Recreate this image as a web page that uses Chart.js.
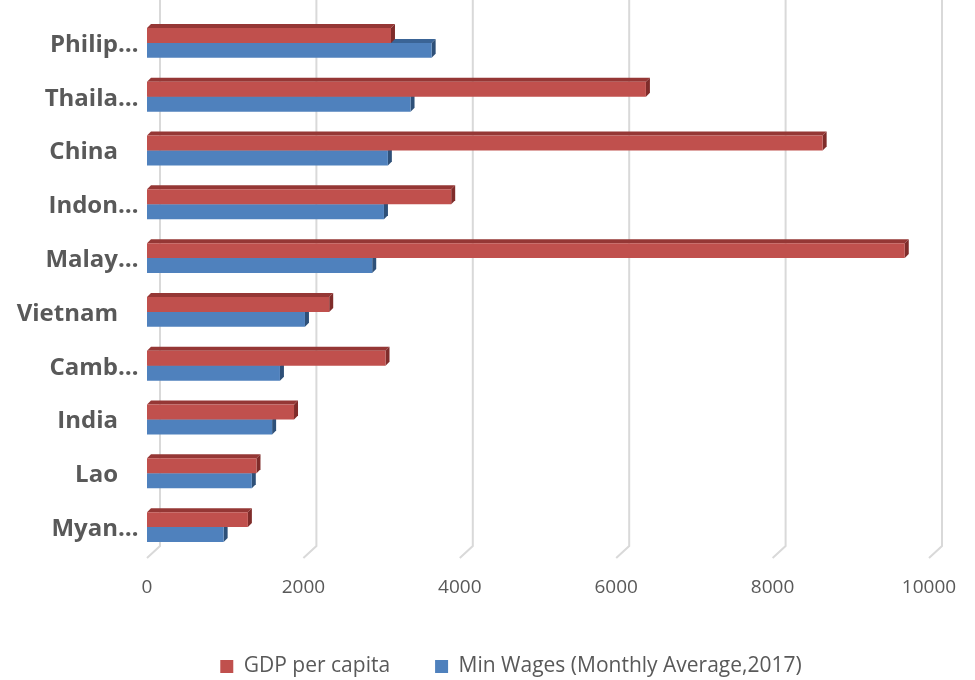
<!DOCTYPE html>
<html>
<head>
<meta charset="utf-8">
<script src="https://cdn.jsdelivr.net/npm/chart.js@4"></script>
<style>
  html,body{margin:0;padding:0;background:#fff;}
  #wrap{width:975px;height:680px;}
</style>
</head>
<body>
<div id="wrap"><canvas id="myChart" width="975" height="680"></canvas></div>
<script>
const categories=["Philip…","Thaila…","China","Indon…","Malay…","Vietnam","Camb…","India","Lao","Myan…"];
const gdpPerCapita=[3120,6380,8640,3890,9690,2330,3050,1880,1400,1290];
const minWages=[3640,3370,3080,3030,2880,2020,1700,1600,1340,980];
const xTicks=[0,2000,4000,6000,8000,10000];

const barColors=["#C0504D","#4F81BD"];
const topColors=["#953735","#3A6496"];
const sideColors=["#7F2C2A","#2E5078"];

const ctx=document.getElementById("myChart");

// fake 3d: back-wall gridlines plus top/side faces of every bar
const depth3d={
    id:"depth3d",
    afterLayout(chart){
        // legend sits a bit right of centre in the original
        chart.legend.left+=93;
    },
    beforeDatasetsDraw(chart){
        const c=chart.ctx;
        const xs=chart.scales.x;
        const area=chart.chartArea;
        c.save();
        c.strokeStyle="#D9D9D9";
        c.lineWidth=2;
        xTicks.forEach(v=>{
            const px=xs.getPixelForValue(v);
            c.beginPath();
            c.moveTo(px+13,0);
            c.lineTo(px+13,area.bottom-8);
            c.lineTo(px,area.bottom+4);
            c.stroke();
        });
        const d=4;
        for(let i=chart.data.datasets.length-1;i>=0;i--){
            chart.getDatasetMeta(i).data.forEach(bar=>{
                const top=bar.y-bar.height/2;
                const bottom=bar.y+bar.height/2;
                c.fillStyle=topColors[i];
                c.beginPath();
                c.moveTo(bar.base,top);
                c.lineTo(bar.base+d,top-d);
                c.lineTo(bar.x+d,top-d);
                c.lineTo(bar.x,top);
                c.closePath();
                c.fill();
                c.fillStyle=sideColors[i];
                c.beginPath();
                c.moveTo(bar.x,top);
                c.lineTo(bar.x+d,top-d);
                c.lineTo(bar.x+d,bottom-d);
                c.lineTo(bar.x,bottom);
                c.closePath();
                c.fill();
            });
        }
        c.restore();
    },
    afterDraw(chart){
        // category labels: the "…" hangs past the right edge like in excel
        const c=chart.ctx;
        const ys=chart.scales.y;
        c.save();
        c.font="bold 24px 'Open Sans'";
        c.fillStyle="#595959";
        c.textAlign="right";
        c.textBaseline="middle";
        categories.forEach((lab,i)=>{
            const py=ys.getPixelForTick(i)+2;
            if(lab.endsWith("…")){
                c.textAlign="left";
                c.fillText("…",118,py);
                c.textAlign="right";
                c.fillText(lab.slice(0,-1),118,py);
            }else{
                c.fillText(lab,118,py);
            }
        });
        c.restore();
    }
};

const myChart=new Chart(ctx,{
    type:"bar",
    data:{
        labels:categories,
        datasets:[{
            label:"GDP per capita",
            data:gdpPerCapita,
            backgroundColor:barColors[0]
        },{
            label:"Min Wages (Monthly Average,2017)",
            data:minWages,
            backgroundColor:barColors[1]
        }]
    },
    options:{
        indexAxis:"y",
        responsive:false,
        animation:false,
        barPercentage:1,
        categoryPercentage:0.556,
        layout:{padding:{left:0,right:46,top:16,bottom:-7}},
        scales:{
            x:{
                min:0,
                max:10000,
                afterBuildTicks:s=>{s.ticks=xTicks.map(v=>({value:v}));},
                afterFit:s=>{s.height=57;s.paddingLeft=0;s.paddingRight=0;},
                grid:{display:false,drawTicks:false},
                border:{display:false},
                ticks:{
                    padding:22,
                    color:"#595959",
                    font:{family:"Open Sans",size:19},
                    callback:v=>String(v)
                }
            },
            y:{
                afterFit:s=>{s.width=147;s.paddingTop=0;s.paddingBottom=0;},
                grid:{display:false,drawTicks:false},
                border:{display:false},
                ticks:{display:false}
            }
        },
        plugins:{
            legend:{
                position:"bottom",
                labels:{
                    boxWidth:13,
                    boxHeight:13,
                    padding:45,
                    color:"#595959",
                    font:{family:"Open Sans",size:21}
                }
            },
            tooltip:{enabled:false}
        }
    },
    plugins:[depth3d]
});
</script>
</body>
</html>
